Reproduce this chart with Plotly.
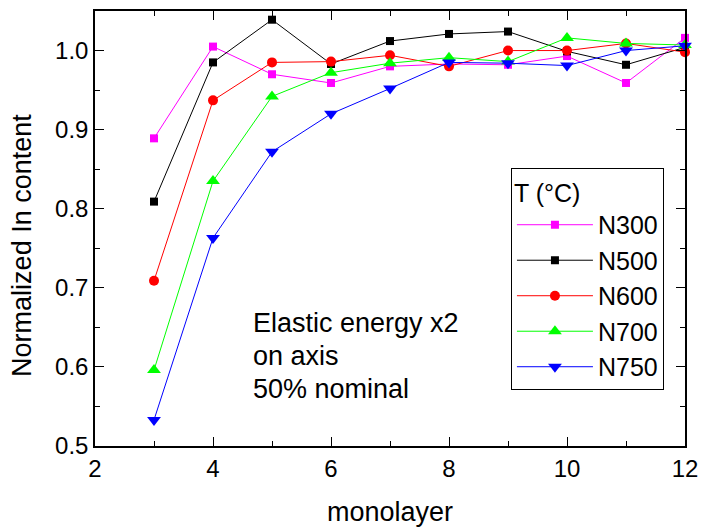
import plotly.graph_objects as go

monolayer = [3, 4, 5, 6, 7, 8, 9, 10, 11, 12]

n300 = [0.889, 1.005, 0.970, 0.959, 0.980, 0.983, 0.982, 0.993, 0.959, 1.016]
n500 = [0.809, 0.985, 1.039, 0.983, 1.012, 1.021, 1.024, 0.999, 0.982, 1.004]
n600 = [0.709, 0.937, 0.985, 0.986, 0.994, 0.980, 1.000, 1.000, 1.009, 0.998]
n700 = [0.596, 0.835, 0.942, 0.972, 0.984, 0.991, 0.986, 1.016, 1.009, 1.007]
n750 = [0.533, 0.763, 0.872, 0.920, 0.952, 0.985, 0.984, 0.981, 1.000, 1.006]

series_names = ["N300", "N500", "N600", "N700", "N750"]
series_values = [n300, n500, n600, n700, n750]
colors = ["#FF00FF", "#000000", "#FF0000", "#00FF00", "#0000FF"]
symbols = ["square", "square", "circle", "triangle-up", "triangle-down"]
sizes = [8, 8, 10, 12, 12]

note_lines = ["Elastic energy x2", "on axis", "50% nominal"]

FONT = "Liberation Sans, Arial, sans-serif"

fig = go.Figure()
for name, vals, col, sym, sz in zip(series_names, series_values, colors, symbols, sizes):
    fig.add_trace(go.Scatter(
        x=monolayer, y=vals, name=name, mode="lines+markers",
        line=dict(color=col, width=1),
        marker=dict(symbol=sym, size=sz, color=col, line=dict(width=0)),
        cliponaxis=False,
    ))

axis_common = dict(
    showline=True, linecolor="black", linewidth=1.5, mirror="ticks",
    ticks="inside", ticklen=9, tickwidth=1.2, tickcolor="black",
    showgrid=False, zeroline=False,
    tickfont=dict(family=FONT, size=24, color="black"),
    minor=dict(ticks="inside", ticklen=5, tickwidth=1.2, tickcolor="black"),
)

fig.update_xaxes(
    range=[2, 12], dtick=2, tick0=2, **axis_common,
    title=dict(text="monolayer", font=dict(family=FONT, size=27, color="black"), standoff=22),
)
fig.update_xaxes(minor_dtick=1)
fig.update_yaxes(
    range=[0.5, 1.05], dtick=0.1, tick0=0.5, tickformat=".1f", **axis_common,
)
fig.update_yaxes(minor_dtick=0.05)

# y-axis title, placed slightly below the plot centre
fig.add_annotation(
    xref="paper", yref="paper", x=-0.123, y=0.461,
    xanchor="center", yanchor="middle", showarrow=False, textangle=-90,
    text="Normalized In content", font=dict(family=FONT, size=27, color="black"),
)

for i, line in enumerate(note_lines):
    fig.add_annotation(
        xref="paper", yref="paper", x=0.264, y=0.283 - i * 0.0755,
        xanchor="left", yanchor="middle", showarrow=False, align="left",
        text=line, font=dict(family=FONT, size=27, color="black"),
    )

fig.update_layout(
    width=707, height=531,
    margin=dict(l=95, r=18, t=9, b=84),
    paper_bgcolor="white", plot_bgcolor="white",
    font=dict(family=FONT, color="black"),
    showlegend=True,
    legend=dict(
        x=0.705, y=0.638, xanchor="left", yanchor="top",
        bgcolor="white", bordercolor="black", borderwidth=1,
        font=dict(family=FONT, size=25, color="black"),
        title=dict(text="T (°C)", font=dict(family=FONT, size=25, color="black")),
        tracegroupgap=0, itemwidth=76,
    ),
)

fig.write_html("out.html")
